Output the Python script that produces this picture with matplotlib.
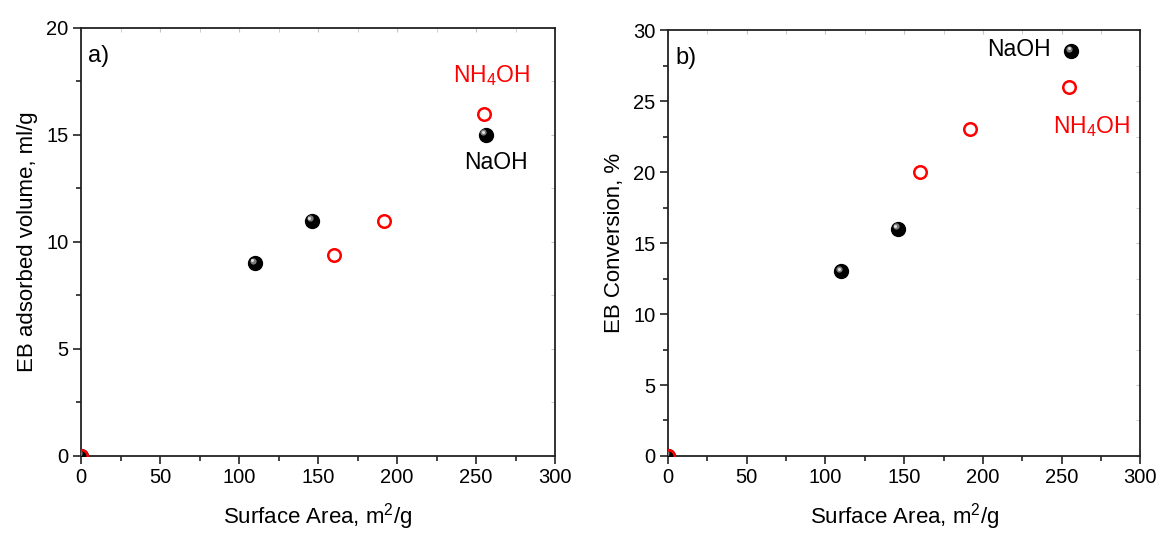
import matplotlib
matplotlib.use('Agg')
import matplotlib.pyplot as plt
import matplotlib.transforms as mtransforms
from matplotlib.ticker import MultipleLocator

plt.rcParams['font.family'] = ['Liberation Sans', 'DejaVu Sans']
plt.rcParams['mathtext.fontset'] = 'custom'
plt.rcParams['mathtext.rm'] = 'Liberation Sans'
plt.rcParams['mathtext.it'] = 'Liberation Sans'

# data
naoh_area = [0, 110, 146, 256]
nh4_area = [0, 160, 192, 255]
naoh_volume = [0, 9, 11, 15]
nh4_volume = [0, 9.4, 11, 16]
naoh_conv = [0, 13, 16, 28.5]
nh4_conv = [0, 20, 23, 26]

fig = plt.figure(figsize=(11.59, 5.33), dpi=100)
ax1 = fig.add_axes([0.0699, 0.1445, 0.409, 0.803])
ax2 = fig.add_axes([0.5764, 0.1445, 0.4075, 0.799])


def balls(ax, x, y):
    ax.plot(x, y, 'o', color='black', ms=10, mec='black', zorder=3)
    off = mtransforms.offset_copy(ax.transData, fig=fig, x=-1.5, y=1.8, units='points')
    ax.plot(x, y, 'o', color='#9a9a9a', ms=4.5, mew=0, alpha=0.8, transform=off, zorder=4)
    off2 = mtransforms.offset_copy(ax.transData, fig=fig, x=-1.8, y=2.1, units='points')
    ax.plot(x, y, 'o', color='#e0e0e0', ms=2.2, mew=0, transform=off2, zorder=4)


def rings(ax, x, y):
    ax.plot(x, y, 'o', mfc='none', mec='#ff0000', ms=9, mew=1.8, zorder=5)


def style(ax, ymax, ystep, ylabel):
    ax.set_xlim(0, 300)
    ax.set_ylim(0, ymax)
    ax.xaxis.set_major_locator(MultipleLocator(50))
    ax.xaxis.set_minor_locator(MultipleLocator(25))
    ax.yaxis.set_major_locator(MultipleLocator(ystep))
    ax.yaxis.set_minor_locator(MultipleLocator(ystep / 2))
    ax.tick_params(which='both', direction='out', labelsize=14.5, width=1.2, color='#222222')
    ax.tick_params(which='major', length=6, pad=3)
    ax.tick_params(which='minor', length=3.5)
    for s in ax.spines.values():
        s.set_linewidth(1.3)
        s.set_color('#222222')
    ax.set_xlabel('Surface Area, m$^2$/g', fontsize=16, labelpad=10)
    ax.set_ylabel(ylabel, fontsize=16, labelpad=6)
    # faint ticks on the opposite sides
    sec = ax.secondary_xaxis('top')
    sec.xaxis.set_major_locator(MultipleLocator(50))
    sec.xaxis.set_minor_locator(MultipleLocator(25))
    sec.tick_params(which='both', direction='in', length=3, color='#c4c4c4', labeltop=False)
    sec.spines['top'].set_visible(False)
    secy = ax.secondary_yaxis('right')
    secy.yaxis.set_major_locator(MultipleLocator(ystep))
    secy.yaxis.set_minor_locator(MultipleLocator(ystep / 2))
    secy.tick_params(which='both', direction='in', length=3, color='#c4c4c4', labelright=False)
    secy.spines['right'].set_visible(False)


style(ax1, 20, 5, 'EB adsorbed volume, ml/g')
balls(ax1, naoh_area, naoh_volume)
rings(ax1, nh4_area, nh4_volume)
ax1.text(0.015, 0.96, 'a)', transform=ax1.transAxes, fontsize=17, va='top')
ax1.text(260, 17.8, 'NH$_4$OH', color='#ff0000', fontsize=16.5, ha='center', va='center')
ax1.text(262.5, 13.7, 'NaOH', color='black', fontsize=16.5, ha='center', va='center')

style(ax2, 30, 5, 'EB Conversion, %')
balls(ax2, naoh_area, naoh_conv)
rings(ax2, nh4_area, nh4_conv)
ax2.text(0.015, 0.96, 'b)', transform=ax2.transAxes, fontsize=17, va='top')
ax2.text(243, 28.6, 'NaOH', color='black', fontsize=16.5, ha='right', va='center')
ax2.text(269, 23.2, 'NH$_4$OH', color='#ff0000', fontsize=16.5, ha='center', va='center')

fig.savefig('out.png', dpi=100)
